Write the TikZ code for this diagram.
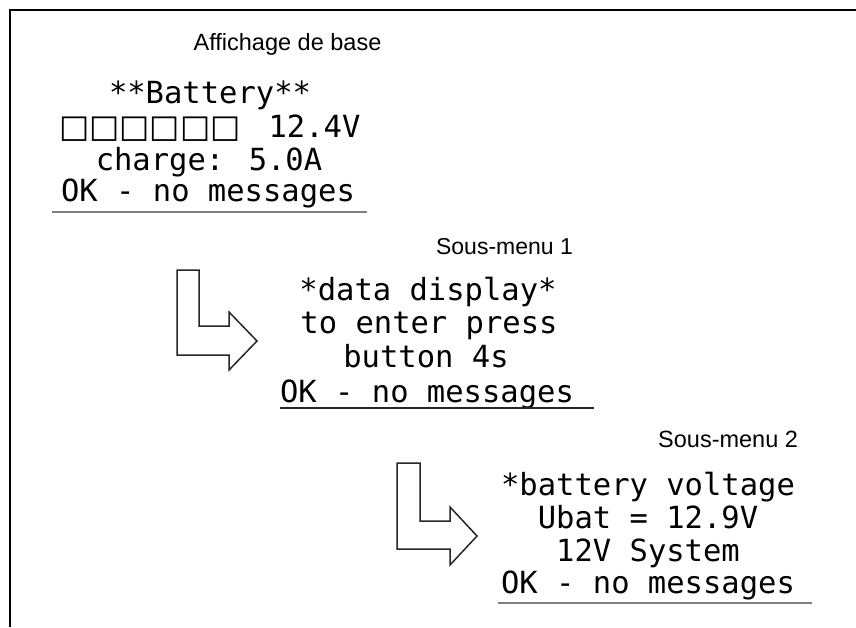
\documentclass[tikz,border=0pt]{standalone}
\usepackage{fontspec}
\newfontfamily\lcdfont{DejaVu Sans Mono}
\newfontfamily\boxfont{DejaVu Sans}
\newfontfamily\labfont{Liberation Sans}
\tikzset{
  lcd/.style={inner sep=0pt, anchor=base, font=\lcdfont\fontsize{30.5}{36}\selectfont},
  lab/.style={inner sep=0pt, anchor=base, font=\labfont\fontsize{23.5}{28}\selectfont},
  uline/.style={line width=2pt, draw=black!50},
  larrow/.style={line width=1.5pt, draw=black!85, line join=miter},
  frame/.style={line width=2pt, draw=black}
}
\begin{document}
\begin{tikzpicture}[x=1pt,y=-1pt]
\useasboundingbox (0,0) rectangle (856,627);
\fill[white] (0,0) rectangle (856,627);
% frame
\coordinate (fb) at (10,627);
\coordinate (fc) at (10,10);
\coordinate (fr) at (856,10);
\draw[frame] (fb) -- (fc) -- (fr);

% labels
\node[lab] (l0) at (287.5,50) {Affichage de base};
\node[lab,font=\labfont\fontsize{23}{28}\selectfont] (l1) at (504.5,254) {Sous-menu 1};
\node[lab,anchor=base west] (l2) at (658,447) {Sous-menu 2\textcolor{black!30}{\fontsize{8}{10}\selectfont.}};

% block 1
\node[lcd] (a1) at (210,103) {**Battery**};
\node[lcd,anchor=base west] (a2) at (59,137) {{\boxfont\fontsize{32}{36}\selectfont □□□□□□}\hspace{28pt}12.4V};
\node[lcd] (a3) at (209,170) {charge: 5.0A};
\node[lcd] (a4) at (208,201) {OK - no messages};
\coordinate (u1a) at (52,212);
\coordinate (u1b) at (367,212);
\draw[uline] (u1a) -- (u1b);

% arrow 1
\draw[larrow] (177,270) -- (199,270) -- (199,326) -- (229,326) -- (229,312) -- (257,341) -- (229,370) -- (229,355) -- (177,355) -- cycle;

% block 2
\node[lcd] (b1) at (428,300) {*data display*};
\node[lcd] (b2) at (429,333) {to enter press};
\node[lcd] (b3) at (426,367) {button 4s};
\node[lcd] (b4) at (427,402) {OK - no messages};
\coordinate (u2a) at (280,408);
\coordinate (u2b) at (594,408);
\draw[uline,draw=black!85,line width=1.5pt] (u2a) -- (u2b);

% arrow 2
\draw[larrow] (397,463) -- (420,463) -- (420,521) -- (450,521) -- (450,507) -- (477,536) -- (450,565) -- (450,549) -- (397,549) -- cycle;

% block 3
\node[lcd] (c1) at (648,495) {*battery voltage};
\node[lcd] (c2) at (648,528) {Ubat = 12.9V};
\node[lcd] (c3) at (648,561) {12V System};
\node[lcd] (c4) at (648,593) {OK - no messages};
\coordinate (u3a) at (498,603);
\coordinate (u3b) at (812,603);
\draw[uline] (u3a) -- (u3b);
\end{tikzpicture}
\end{document}
